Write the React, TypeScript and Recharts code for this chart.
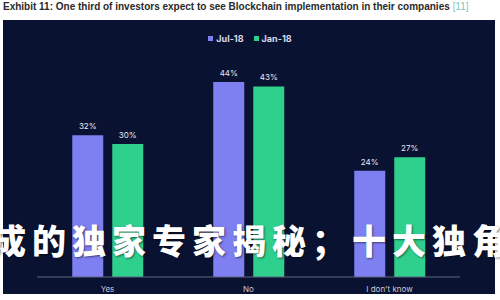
import { BarChart, Bar, XAxis, YAxis, Legend, LabelList } from "recharts";

const categories = ["Yes", "No", "I don't know"];
const jul18 = [32, 44, 24];
const jan18 = [30, 43, 27];
const seriesNames = ["Jul-18", "Jan-18"];
const seriesColors = ["#7e7ff0", "#2fcf8e"];

const data = categories.map((name, i) => ({ name, jul: jul18[i], jan: jan18[i] }));

const pct = (v: any) => `${v}%`;

function LegendBox() {
  return (
    <div style={{ display: "flex", justifyContent: "center", gap: 10, fontSize: 9, fontWeight: 700, color: "#d8dbef" }}>
      {seriesNames.map((n, i) => (
        <span key={n} style={{ display: "flex", alignItems: "center", gap: 3 }}>
          <span style={{ width: 5, height: 5, background: seriesColors[i], display: "inline-block" }} />
          {n}
        </span>
      ))}
    </div>
  );
}

export default function App() {
  return (
    <div
      style={{
        position: "absolute",
        left: 0,
        top: 0,
        width: 500,
        height: 300,
        background: "#fff",
        overflow: "hidden",
        fontFamily: "Inter, 'Noto Sans', sans-serif",
      }}
    >
      <div
        style={{
          position: "absolute",
          left: 3,
          top: 1,
          fontSize: 10,
          fontWeight: 700,
          color: "#2a2a2a",
          whiteSpace: "nowrap",
          fontFamily: "'Liberation Sans', Arial, sans-serif",
        }}
      >
        Exhibit 11: One third of investors expect to see Blockchain implementation in their companies{" "}
        <span style={{ color: "#7fc8c0", fontWeight: 400 }}>[11]</span>
      </div>
      <div
        style={{
          position: "absolute",
          left: 3,
          top: 20,
          width: 492,
          height: 274,
          background: "#0a1231",
        }}
      />
      <div style={{ position: "absolute", left: 0, top: 0 }}>
        <BarChart
          width={500}
          height={300}
          data={data}
          margin={{ top: 82, right: 40, left: 37, bottom: 0 }}
          barCategoryGap="25%"
          barGap={9}
        >
          <XAxis
            dataKey="name"
            height={23}
            stroke="#5d6480"
            tickLine={false}
            tick={{ fill: "#c8cbe0", fontSize: 8 }}
            tickMargin={3}
          />
          <YAxis hide domain={[0, 44]} />
          <Legend
            verticalAlign="top"
            content={() => <LegendBox />}
            wrapperStyle={{ top: 33, left: 0, width: 500, height: 0, overflow: "visible" }}
          />
          <Bar dataKey="jul" name={seriesNames[0]} fill={seriesColors[0]} isAnimationActive={false}>
            <LabelList dataKey="jul" position="top" offset={6} formatter={pct} fill="#e8e9f5" fontSize={8} />
          </Bar>
          <Bar dataKey="jan" name={seriesNames[1]} fill={seriesColors[1]} isAnimationActive={false}>
            <LabelList dataKey="jan" position="top" offset={6} formatter={pct} fill="#e8e9f5" fontSize={8} />
          </Bar>
        </BarChart>
      </div>
      <div
        style={{
          position: "absolute",
          left: -8,
          top: 218,
          fontSize: 34,
          letterSpacing: 6,
          fontWeight: 900,
          color: "#ffffff",
          whiteSpace: "nowrap",
          fontFamily: "'Noto Sans CJK SC', sans-serif",
          textShadow: "1px 1px 2px rgba(0,0,0,0.5)",
          lineHeight: "44px",
        }}
      >
        成的独家专家揭秘；十大独角兽
      </div>
    </div>
  );
}
